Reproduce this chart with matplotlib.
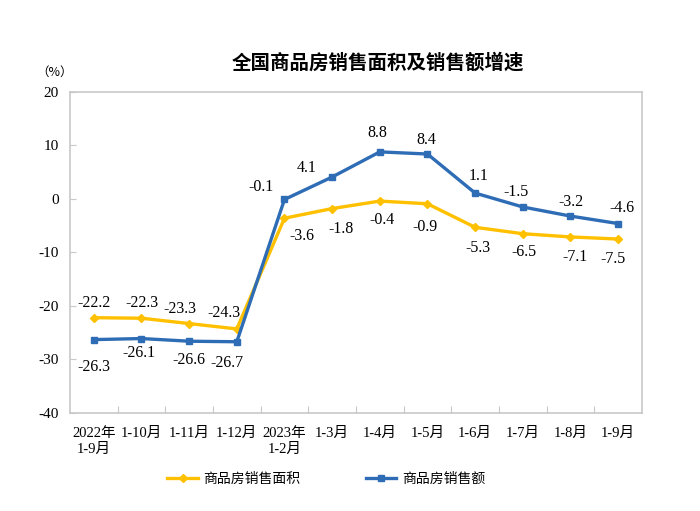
import matplotlib
matplotlib.use("Agg")
import matplotlib.pyplot as plt
from matplotlib.lines import Line2D

plt.rcParams['font.family'] = ['Liberation Serif', 'Noto Sans CJK SC', 'DejaVu Sans']

categories = ["2022年\n1-9月", "1-10月", "1-11月", "1-12月", "2023年\n1-2月", "1-3月",
              "1-4月", "1-5月", "1-6月", "1-7月", "1-8月", "1-9月"]
area_growth = [-22.2, -22.3, -23.3, -24.3, -3.6, -1.8, -0.4, -0.9, -5.3, -6.5, -7.1, -7.5]
sales_growth = [-26.3, -26.1, -26.6, -26.7, -0.1, 4.1, 8.8, 8.4, 1.1, -1.5, -3.2, -4.6]
yticks = [-40, -30, -20, -10, 0, 10, 20]
series_names = ["商品房销售面积", "商品房销售额"]
title = "全国商品房销售面积及销售额增速"

# label offsets in pixels (dx, dy; dy positive = up) — layout only
area_offsets = [(0, 15), (0, 15), (-9, 15), (-13, 16), (17, -18), (9, -20),
                (2, -19), (-2, -23), (3, -21), (1, -18), (5, -20), (-5, -20)]
sales_offsets = [(0, -27), (-3, -14), (0, -19), (-10, -21), (-23, 12), (-25, 9),
                 (-2, 19), (-1, 14), (3, 17), (-7, 15), (1, 14), (4, 16)]

yellow = "#FFC000"
blue = "#2E6DB5"
frame = "#C8C8C8"

fig = plt.figure(figsize=(7, 5.11), dpi=100)
ax = fig.add_axes([0.1, 0.192, 0.817, 0.628])

x = list(range(len(categories)))
ax.plot(x, area_growth, color=yellow, lw=2.4, marker='D', ms=4.5, zorder=3)
ax.plot(x, sales_growth, color=blue, lw=2.4, marker='s', ms=4.5, zorder=4)

ax.set_xlim(-0.5, len(categories) - 0.5)
ax.set_ylim(-40, 20)
ax.set_yticks(yticks)
ax.set_yticklabels([str(v) for v in yticks], fontsize=11)
ax.set_xticks([i + 0.5 for i in range(len(categories) - 1)])
ax.set_xticklabels([])
ax.set_xticks(x, minor=True)
ax.set_xticklabels(categories, minor=True, fontsize=10.5, linespacing=1.3)
ax.tick_params(axis='x', which='major', direction='in', length=5, color=frame)
ax.tick_params(axis='x', which='minor', length=0, pad=10)
ax.tick_params(axis='y', direction='in', length=4, color=frame, pad=8)
for s in ax.spines.values():
    s.set_color(frame)
    s.set_linewidth(1.2)

fs = 11.5
for i, (a, b) in enumerate(zip(area_growth, sales_growth)):
    ax.annotate(f"{a:.1f}", (i, a), xytext=area_offsets[i], textcoords='offset pixels',
                ha='center', va='center', fontsize=fs, zorder=5)
    ax.annotate(f"{b:.1f}", (i, b), xytext=sales_offsets[i], textcoords='offset pixels',
                ha='center', va='center', fontsize=fs, zorder=5)

fig.text(0.54, 0.878, title, ha='center', va='center', fontsize=14,
         fontweight='bold', family=['Noto Sans CJK SC', 'DejaVu Sans'])
fig.text(0.078, 0.858, "（%）", ha='center', va='center', fontsize=9,
         family=['Noto Sans CJK SC', 'DejaVu Sans'])

handles = [Line2D([], [], color=yellow, lw=2.4, marker='D', ms=4.5),
           Line2D([], [], color=blue, lw=2.4, marker='s', ms=4.5)]
fig.legend(handles, series_names, loc='center', bbox_to_anchor=(0.466, 0.063), ncol=2,
           frameon=False, handlelength=2.2, handletextpad=0.4, columnspacing=4.7,
           prop={'family': ['Noto Sans CJK SC', 'DejaVu Sans'], 'size': 10})

fig.savefig("out.png", dpi=100)
